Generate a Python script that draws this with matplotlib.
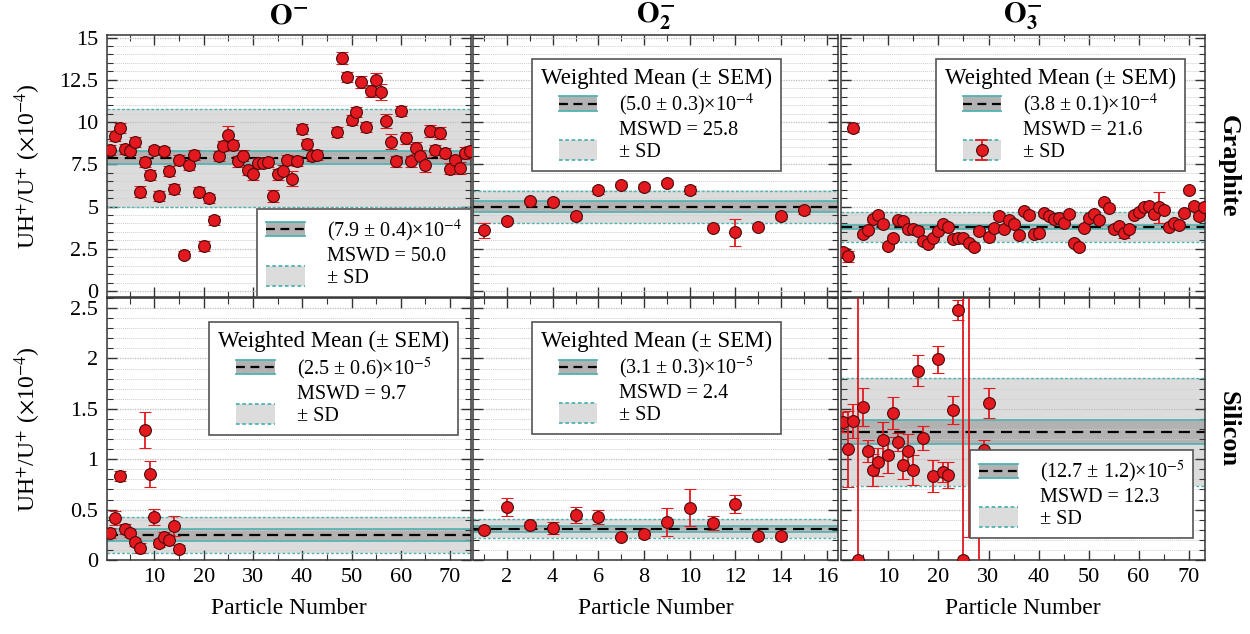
import matplotlib

matplotlib.use("Agg")

import matplotlib.pyplot as plt
from matplotlib.legend_handler import HandlerBase
from matplotlib.lines import Line2D
from matplotlib.patches import Patch, Rectangle
from matplotlib.ticker import FuncFormatter, MultipleLocator

plt.rcParams["font.family"] = ["Liberation Serif", "DejaVu Serif"]
plt.rcParams["mathtext.fontset"] = "stix"

# --- graphite, O- -------------------------------------------------------
TL_X = [1, 2, 3, 4, 5, 6, 7, 8, 9, 10, 11, 12, 13, 14, 15, 16, 17, 18, 19, 20,
        21, 22, 23, 24, 25, 26, 27, 28, 29, 30, 31, 32, 33, 34, 35, 36, 37, 38,
        39, 40, 41, 42, 43,
        47, 48, 49, 50, 51, 52, 53, 54, 55, 56, 57, 58, 59, 60, 61, 62, 63, 64,
        65, 66, 67, 68, 69, 70, 71, 72, 73, 74]
TL_Y = [8.35, 9.18, 9.65, 8.41, 8.31, 8.80, 5.89, 7.63, 6.86, 8.35,
        5.64, 8.29, 7.09, 6.02, 7.73, 2.15, 7.44, 8.06, 5.87, 2.69,
        5.48, 4.18, 8.00, 8.60, 9.22, 8.64, 7.67, 8.02, 7.15, 6.90,
        7.58, 7.58, 7.62, 5.64, 6.90, 7.13, 7.77, 6.66, 7.71, 9.61,
        8.70, 8.02, 8.06,
        9.42, 13.78, 12.65, 10.13, 10.58, 12.36, 9.71, 11.84, 12.48, 11.78,
        10.06, 8.84, 7.67, 10.64, 9.07, 7.67, 8.45, 8.02, 7.48, 9.48,
        8.35, 9.36, 8.16, 7.25, 7.77, 7.29, 8.16, 8.29]
TL_ERR = [0.3, 0.3, 0.3, 0.3, 0.25, 0.3, 0.3, 0.3, 0.3, 0.25,
          0.3, 0.25, 0.3, 0.3, 0.3, 0.2, 0.3, 0.3, 0.3, 0.3,
          0.25, 0.25, 0.3, 0.3, 0.55, 0.3, 0.3, 0.3, 0.3, 0.3,
          0.3, 0.3, 0.3, 0.35, 0.3, 0.3, 0.3, 0.45, 0.3, 0.3,
          0.3, 0.3, 0.3,
          0.3, 0.35, 0.3, 0.3, 0.3, 0.35, 0.3, 0.35, 0.45, 0.5,
          0.4, 0.45, 0.3, 0.3, 0.35, 0.3, 0.35, 0.3, 0.45, 0.35,
          0.3, 0.35, 0.3, 0.35, 0.3, 0.35, 0.35, 0.3]

# --- graphite, O2- ------------------------------------------------------
TM_X = [1, 2, 3, 4, 5, 6, 7, 8, 9, 10, 11, 12, 13, 14, 15]
TM_Y = [3.60, 4.15, 5.31, 5.29, 4.42, 5.97, 6.28, 6.18, 6.41, 5.97,
        3.74, 3.47, 3.80, 4.42, 4.77]
TM_ERR = [0.45, 0.15, 0.15, 0.15, 0.15, 0.2, 0.15, 0.15, 0.15, 0.25,
          0.15, 0.78, 0.15, 0.15, 0.2]

# --- graphite, O3- ------------------------------------------------------
TR_X = [1, 2, 3, 5, 6, 7, 8, 9, 10, 11, 12, 13, 14, 15, 16, 17, 18, 19, 20,
        21, 22, 23, 24, 25, 26, 27, 28, 30, 31, 32, 33, 34, 35, 36, 37, 38, 39,
        40, 41, 42, 43, 44, 45, 46, 47, 48, 49, 50, 51, 52, 53, 54, 55, 56, 57,
        58, 59, 60, 61, 62, 63, 64, 65, 66, 67, 68, 69, 70, 71, 72, 73]
TR_Y = [2.30, 2.05, 9.67, 3.37, 3.64, 4.24, 4.53, 3.95, 2.69, 3.17, 4.18,
        4.15, 3.66, 3.70, 3.56, 2.96, 2.77, 3.17, 3.56, 3.99, 3.80, 3.08, 3.17,
        3.17, 2.87, 2.60, 3.55, 3.22, 3.76, 4.44, 3.70, 4.22, 3.99, 3.31, 4.73,
        4.53, 3.37, 3.45, 4.61, 4.47, 4.24, 4.34, 4.03, 4.57, 2.87, 2.60, 3.74,
        4.32, 4.57, 4.22, 5.25, 4.92, 3.66, 3.84, 3.41, 3.66, 4.53, 4.67, 4.96,
        5.02, 4.57, 4.96, 4.80, 3.80, 4.05, 3.93, 4.61, 5.97, 5.06, 4.44, 4.96]
TR_ERR = [0.25, 0.35, 0.25, 0.15, 0.15, 0.15, 0.15, 0.15, 0.15, 0.15, 0.15,
          0.15, 0.15, 0.15, 0.15, 0.15, 0.15, 0.15, 0.15, 0.15, 0.15, 0.2, 0.15,
          0.15, 0.15, 0.15, 0.15, 0.15, 0.15, 0.15, 0.15, 0.15, 0.15, 0.15, 0.15,
          0.2, 0.15, 0.15, 0.15, 0.15, 0.15, 0.15, 0.15, 0.15, 0.15, 0.15, 0.15,
          0.15, 0.15, 0.15, 0.15, 0.15, 0.15, 0.15, 0.25, 0.15, 0.15, 0.15, 0.15,
          0.15, 0.15, 0.93, 0.15, 0.15, 0.15, 0.15, 0.15, 0.15, 0.15, 0.15, 0.15]

# --- silicon, O- --------------------------------------------------------
BL_X = [1, 2, 3, 4, 5, 6, 7, 8, 9, 10, 11, 12, 13, 14, 15]
BL_Y = [0.27, 0.415, 0.83, 0.31, 0.27, 0.18, 0.12, 1.29, 0.85, 0.43,
        0.17, 0.23, 0.20, 0.34, 0.11]
BL_ERR = [0.05, 0.07, 0.05, 0.05, 0.04, 0.04, 0.05, 0.18, 0.13, 0.08,
          0.04, 0.05, 0.05, 0.10, 0.04]

# --- silicon, O2- -------------------------------------------------------
BM_X = [1, 2, 3, 4, 5, 6, 7, 8, 9, 10, 11, 12, 13, 14]
BM_Y = [0.30, 0.53, 0.35, 0.32, 0.45, 0.43, 0.23, 0.26, 0.38, 0.52,
        0.37, 0.56, 0.24, 0.24]
BM_ERR = [0.03, 0.09, 0.03, 0.06, 0.08, 0.07, 0.02, 0.04, 0.14, 0.18,
          0.07, 0.09, 0.02, 0.03]

# --- silicon, O3- -------------------------------------------------------
BR_X = [1, 2, 3, 4, 5, 6, 7, 8, 9, 10, 11, 12, 13, 14, 15, 16, 17,
        19, 20, 21, 22, 23, 24, 25, 26, 28, 29, 30]
BR_Y = [1.37, 1.10, 1.38, 0.0, 1.52, 1.08, 0.89, 0.97, 1.19, 1.04, 1.46,
        1.17, 0.94, 1.08, 0.89, 1.88, 1.21, 0.83, 1.99, 0.87, 0.84, 1.49,
        2.48, 0.0, 3.0, 0.39, 1.09, 1.56]
BR_ERR = [0.10, 0.38, 0.17, 3.0, 0.19, 0.11, 0.16, 0.14, 0.18, 0.18, 0.16,
          0.09, 0.14, 0.17, 0.15, 0.15, 0.12, 0.16, 0.13, 0.10, 0.13, 0.14,
          0.10, 3.0, 2.77, 0.60, 0.10, 0.15]

# weighted means: (mean, sem, sd)
MEANS = {
    "TL": (7.9, 0.4, 2.9), "TM": (5.0, 0.3, 0.95), "TR": (3.8, 0.1, 0.88),
    "BL": (0.25, 0.06, 0.18), "BM": (0.31, 0.03, 0.095), "BR": (1.27, 0.12, 0.54),
}
KEY_TEXT = {
    "TL": ("(7.9 ± 0.4)×10$^{-4}$", "MSWD = 50.0"),
    "TM": ("(5.0 ± 0.3)×10$^{-4}$", "MSWD = 25.8"),
    "TR": ("(3.8 ± 0.1)×10$^{-4}$", "MSWD = 21.6"),
    "BL": ("(2.5 ± 0.6)×10$^{-5}$", "MSWD = 9.7"),
    "BM": ("(3.1 ± 0.3)×10$^{-5}$", "MSWD = 2.4"),
    "BR": ("(12.7 ± 1.2)×10$^{-5}$", "MSWD = 12.3"),
}
COL_TITLES = [r"$\mathbf{O}^{\mathbf{-}}$", r"$\mathbf{O}_{\mathbf{2}}^{\mathbf{-}}$",
              r"$\mathbf{O}_{\mathbf{3}}^{\mathbf{-}}$"]
ROW_TITLES = ["Graphite", "Silicon"]

TEAL = "#4fb3b0"
RED = "#e3191f"
EDGE = "#4a0a0a"
SEM_FILL = "#b2b2b2"
SD_FILL = "#dcdcdc"
W, H = 1250, 634


class BandKey(HandlerBase):
    def __init__(self, fill, edge_ls, scale, mean_line=False, point=False):
        super().__init__()
        self.fill = fill
        self.edge_ls = edge_ls
        self.scale = scale
        self.mean_line = mean_line
        self.point = point

    def create_artists(self, legend, orig_handle, xdescent, ydescent, width,
                       height, fontsize, trans):
        x0 = -xdescent
        yc = -ydescent + height / 2
        h = height * self.scale
        arts = [Rectangle((x0, yc - h / 2), width, h, facecolor=self.fill,
                          edgecolor="none", transform=trans)]
        for yy in (yc - h / 2, yc + h / 2):
            arts.append(Line2D([x0, x0 + width], [yy, yy], color=TEAL,
                               ls=self.edge_ls, lw=1.3, transform=trans))
        if self.mean_line:
            arts.append(Line2D([x0, x0 + width], [yc, yc], color="black",
                               ls=(0, (4, 2.5)), lw=1.6, transform=trans))
        if self.point:
            xc = x0 + width / 2
            arts.append(Line2D([xc, xc], [yc - h / 2, yc + h / 2], color=RED,
                               lw=1.3, transform=trans))
            for yy in (yc - h / 2, yc + h / 2):
                arts.append(Line2D([xc - 4, xc + 4], [yy, yy], color=RED,
                                   lw=1.3, transform=trans))
            arts.append(Line2D([xc], [yc], marker="o", ms=8.5, mfc=RED,
                               mec=EDGE, mew=0.8, ls="none", transform=trans))
        return arts


def add_key(ax, key, titled, point, loc, anchor):
    sem_h, sd_h = Patch(), Patch()
    blank = Line2D([], [], ls="none")
    mean_txt, mswd_txt = KEY_TEXT[key]
    handler_map = {
        sem_h: BandKey(SEM_FILL, "-", 1.0, mean_line=True),
        sd_h: BandKey(SD_FILL, (0, (2, 1.5)), 1.45, point=point),
    }
    leg = ax.legend([sem_h, blank, sd_h], [mean_txt, mswd_txt, "± SD"],
                    handler_map=handler_map,
                    title="Weighted Mean (± SEM)" if titled else None,
                    loc=loc, bbox_to_anchor=anchor, borderaxespad=0,
                    fontsize=14.5, title_fontsize=16.5, handlelength=1.9,
                    handletextpad=1.1, labelspacing=0.15, borderpad=0.45,
                    fancybox=False, framealpha=1, edgecolor="#555555")
    leg.get_frame().set_linewidth(1.2)
    leg.set_zorder(10)


def draw_panel(ax, x, y, err, key):
    mean, sem, sd = MEANS[key]
    ax.axhspan(mean - sd, mean + sd, color=SD_FILL, zorder=0.2, lw=0)
    ax.axhspan(mean - sem, mean + sem, color=SEM_FILL, zorder=0.3, lw=0)
    for yy in (mean - sd, mean + sd):
        ax.axhline(yy, color=TEAL, ls=(0, (2, 1.5)), lw=1.0, zorder=0.8)
    for yy in (mean - sem, mean + sem):
        ax.axhline(yy, color=TEAL, lw=1.2, zorder=0.8)
    ax.axhline(mean, color="black", ls=(0, (5, 3)), lw=1.6, zorder=0.9)
    ax.errorbar(x, y, yerr=err, fmt="o", ms=8.5, mfc=RED, mec=EDGE, mew=0.8,
                ecolor=RED, elinewidth=1.3, capsize=4, capthick=1.3, zorder=3)


fig = plt.figure(figsize=(W / 100, H / 100), dpi=100)
cols = [(106.7, 470.7), (472.7, 838.3), (841.0, 1205.0)]
rows = [(35.0, 297.0), (298.0, 560.0)]
xlims = [(0.3, 74.2), (0.5, 16.5), (0.5, 73.3)]
xmajor = [10, 2, 10]
xminor = [5, 1, 5]
ylims = [(-0.35, 15.15), (0.0, 2.6)]
ymajor = [2.5, 0.5]
yminor = [0.5, 0.1]

data = {
    "TL": (TL_X, TL_Y, TL_ERR), "TM": (TM_X, TM_Y, TM_ERR), "TR": (TR_X, TR_Y, TR_ERR),
    "BL": (BL_X, BL_Y, BL_ERR), "BM": (BM_X, BM_Y, BM_ERR), "BR": (BR_X, BR_Y, BR_ERR),
}
keys = [["TL", "TM", "TR"], ["BL", "BM", "BR"]]

axes = {}
for r, (top, bot) in enumerate(rows):
    for c, (left, right) in enumerate(cols):
        ax = fig.add_axes([left / W, 1 - bot / H, (right - left) / W, (bot - top) / H])
        key = keys[r][c]
        axes[key] = ax
        draw_panel(ax, *data[key], key)
        ax.set_xlim(*xlims[c])
        ax.set_ylim(*ylims[r])
        ax.xaxis.set_major_locator(MultipleLocator(xmajor[c]))
        ax.xaxis.set_minor_locator(MultipleLocator(xminor[c]))
        ax.yaxis.set_major_locator(MultipleLocator(ymajor[r]))
        ax.yaxis.set_minor_locator(MultipleLocator(yminor[r]))
        ax.yaxis.set_major_formatter(FuncFormatter(lambda v, p: f"{v:g}"))
        ax.set_axisbelow(True)
        ax.grid(axis="y", which="minor", color="#cfcfcf", ls=(0, (1, 1)), lw=0.7)
        ax.grid(axis="y", which="major", color="#bdbdbd", ls=(0, (1, 1)), lw=0.9)
        ax.tick_params(which="both", direction="in", top=True, right=True,
                       labelsize=16, color="#333333", pad=6)
        ax.tick_params(which="major", length=7, width=1.0)
        ax.tick_params(which="minor", length=4, width=0.8)
        for sp in ax.spines.values():
            sp.set_color("#333333")
            sp.set_linewidth(1.1)
        if c > 0:
            ax.tick_params(labelleft=False)
        if r == 0:
            ax.tick_params(labelbottom=False)
        else:
            ax.set_xlabel("Particle Number", fontsize=17, labelpad=8)

add_key(axes["TL"], "TL", False, False, "lower right", (1.0, 0.0))
add_key(axes["TM"], "TM", True, False, "upper center", (0.503, 0.91))
add_key(axes["TR"], "TR", True, True, "upper right", (0.945, 0.91))
add_key(axes["BL"], "BL", True, False, "upper right", (0.966, 0.908))
add_key(axes["BM"], "BM", True, False, "upper center", (0.502, 0.91))
add_key(axes["BR"], "BR", False, False, "lower right", (0.968, 0.083))

for c, (left, right) in enumerate(cols):
    fig.text((left + right) / 2 / W, 1 - 16 / H, COL_TITLES[c], fontsize=21,
             ha="center", va="center")
for r, (top, bot) in enumerate(rows):
    yc = 1 - (top + bot) / 2 / H
    fig.text(1228 / W, yc, ROW_TITLES[r], fontsize=19, fontweight="bold",
             rotation=-90, ha="center", va="center")
    fig.text(28 / W, yc, r"UH$^{+}$/U$^{+}$ ($\times$10$^{-4}$)", fontsize=17,
             rotation=90, ha="center", va="center")

fig.savefig("out.png", dpi=100)
